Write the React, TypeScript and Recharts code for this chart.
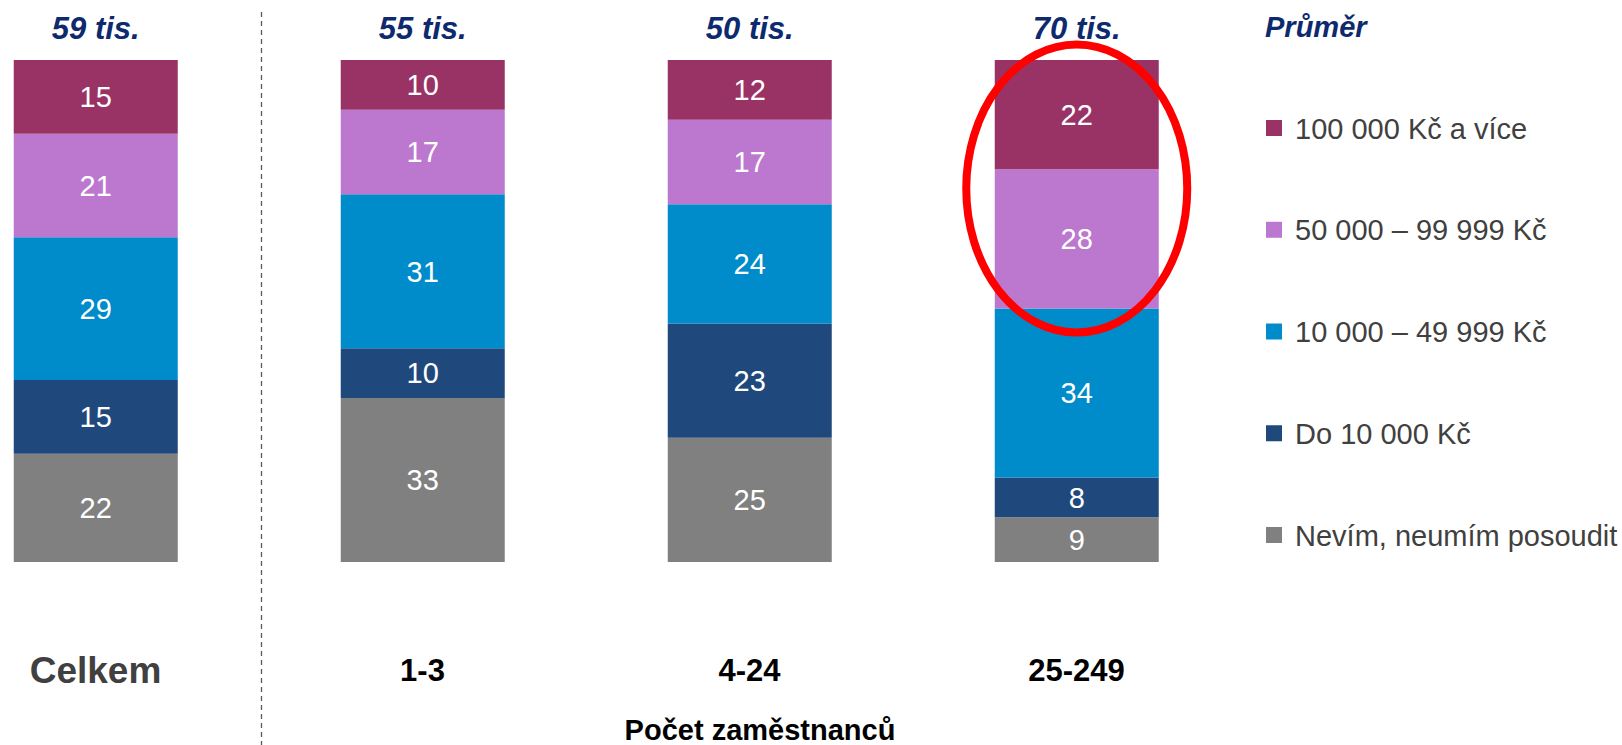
import React from "react";
import { BarChart, Bar, XAxis, YAxis, Legend, LabelList } from "recharts";

// kategorie a hodnoty (%), sloupce jsou normalizované na 100 %
const categories = ["Celkem", "1-3", "4-24", "25-249"];
const averages = ["59 tis.", "55 tis.", "50 tis.", "70 tis."];
const nevim = [22, 33, 25, 9];
const do10k = [15, 10, 23, 8];
const od10k = [29, 31, 24, 34];
const od50k = [21, 17, 17, 28];
const od100k = [15, 10, 12, 22];

const series = [
  { key: "nevim", name: "Nevím, neumím posoudit", color: "#808080", values: nevim },
  { key: "do10k", name: "Do 10 000 Kč", color: "#1F497D", values: do10k },
  { key: "od10k", name: "10 000 – 49 999 Kč", color: "#008BCA", values: od10k },
  { key: "od50k", name: "50 000 – 99 999 Kč", color: "#BC77CE", values: od50k },
  { key: "od100k", name: "100 000 Kč a více", color: "#993366", values: od100k },
];

const data = categories.map((name, i) => {
  const row: any = { name };
  series.forEach((s) => (row[s.key] = s.values[i]));
  return row;
});

const FONT = '"Liberation Sans", Arial, sans-serif';
const NAVY = "#0e2a6e";

const CategoryTick = (props: any) => {
  const { x, y, payload, index } = props;
  const first = index === 0;
  return (
    <g>
      <text
        x={x}
        y={y + (first ? 121 : 119)}
        textAnchor="middle"
        fontSize={first ? 37 : 31}
        fontWeight="bold"
        fill={first ? "#404040" : "#000"}
        fontFamily={FONT}
      >
        {payload.value}
      </text>
      {first && (
        <line
          x1={x + 166}
          x2={x + 166}
          y1={y - 550}
          y2={y + 183}
          stroke="#595959"
          strokeWidth={1.3}
          strokeDasharray="5 4"
        />
      )}
      {index === 2 && (
        <text
          x={x + 10.5}
          y={y + 178}
          textAnchor="middle"
          fontSize={29}
          fontWeight="bold"
          fill="#000"
          fontFamily={FONT}
        >
          Počet zaměstnanců
        </text>
      )}
    </g>
  );
};

// průměr nad sloupcem + zvýraznění posledního sloupce
const TopLabel = (props: any) => {
  const { x, y, width, index } = props;
  const cx = x + width / 2;
  return (
    <g>
      <text
        x={cx}
        y={y - 21}
        textAnchor="middle"
        fontSize={31}
        fontWeight="bold"
        fontStyle="italic"
        fill={NAVY}
        fontFamily={FONT}
      >
        {averages[index]}
      </text>
      {index === 3 && (
        <ellipse
          cx={cx}
          cy={y + 128.5}
          rx={110.5}
          ry={144}
          fill="none"
          stroke="#ff0000"
          strokeWidth={8}
        />
      )}
    </g>
  );
};

const LegendContent = (props: any) => {
  const payload = props.payload || [];
  const order = [...series].reverse();
  return (
    <svg width={360} height={560} style={{ display: "block" }}>
      <text x={0} y={37} fontSize={29} fontWeight="bold" fontStyle="italic" fill={NAVY} fontFamily={FONT}>
        Průměr
      </text>
      {order.map((s, i) => {
        const item = payload.find((p: any) => p.value === s.name);
        const cy = 128 + i * 101.75;
        return (
          <g key={s.key}>
            <rect x={1} y={cy - 8} width={16} height={16} fill={item ? item.color : s.color} />
            <text x={30} y={cy + 10.5} fontSize={29} fill="#404040" fontFamily={FONT}>
              {s.name}
            </text>
          </g>
        );
      })}
    </svg>
  );
};

export default function App() {
  return (
    <div
      style={{
        position: "relative",
        width: 1622,
        height: 745,
        overflow: "hidden",
        fontFamily: FONT,
        background: "#fff",
      }}
    >
      <style>{`body{margin:0}`}</style>
      <div style={{ position: "absolute", left: -68, top: 0 }}>
        <BarChart
          width={1690}
          height={745}
          data={data}
          stackOffset="expand"
          barCategoryGap="25%"
          margin={{ top: 60, right: 382, bottom: 0, left: 0 }}
        >
          <XAxis
            dataKey="name"
            height={183}
            axisLine={false}
            tickLine={false}
            tickSize={0}
            tickMargin={0}
            interval={0}
            tick={<CategoryTick />}
          />
          <YAxis hide domain={[0, 1]} />
          <Legend
            layout="vertical"
            align="center"
            verticalAlign="middle"
            content={<LegendContent />}
            wrapperStyle={{ position: "absolute", left: 1333, top: 0, width: 360, height: 560 }}
          />
          {series.map((s, i) => (
            <Bar
              key={s.key}
              dataKey={s.key}
              name={s.name}
              stackId="a"
              fill={s.color}
              isAnimationActive={false}
            >
              <LabelList dataKey={s.key} position="center" fill="#fff" fontSize={29} fontFamily={FONT} />
              {i === series.length - 1 && <LabelList dataKey={s.key} content={<TopLabel />} />}
            </Bar>
          ))}
        </BarChart>
      </div>
    </div>
  );
}
